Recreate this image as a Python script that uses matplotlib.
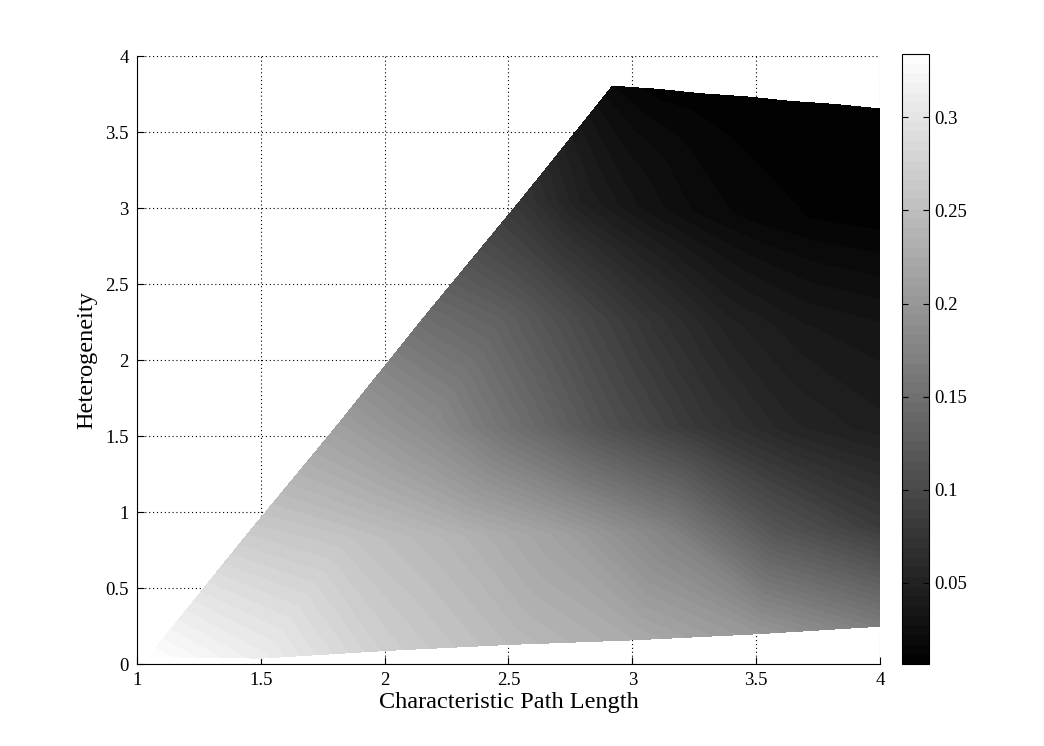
import numpy as np
import matplotlib
matplotlib.use('Agg')
import matplotlib.pyplot as plt

plt.rcParams['font.family'] = ['Liberation Serif', 'DejaVu Serif']

# mesh of measured points, rows go from low to high heterogeneity
path_length = [
    [1.05, 1.50, 2.00, 2.50, 3.00, 3.50, 4.00],
    [1.42, 1.85, 2.28, 2.71, 3.14, 3.57, 4.00],
    [1.80, 2.17, 2.53, 2.90, 3.27, 3.63, 4.00],
    [2.17, 2.48, 2.78, 3.09, 3.39, 3.70, 4.00],
    [2.55, 2.79, 3.03, 3.28, 3.52, 3.76, 4.00],
    [2.92, 3.10, 3.28, 3.46, 3.64, 3.82, 4.00],
]
heterogeneity = [
    [0.05, 0.04, 0.09, 0.13, 0.16, 0.20, 0.25],
    [0.80, 0.82, 0.83, 0.85, 0.87, 0.88, 0.90],
    [1.55, 1.55, 1.55, 1.55, 1.55, 1.55, 1.55],
    [2.30, 2.28, 2.27, 2.25, 2.23, 2.22, 2.20],
    [3.05, 3.03, 3.00, 2.98, 2.95, 2.93, 2.90],
    [3.80, 3.78, 3.75, 3.73, 3.70, 3.68, 3.65],
]
value = [
    [0.333, 0.310, 0.270, 0.245, 0.225, 0.200, 0.165],
    [0.270, 0.257, 0.238, 0.212, 0.174, 0.115, 0.083],
    [0.212, 0.187, 0.150, 0.110, 0.078, 0.055, 0.045],
    [0.145, 0.130, 0.100, 0.072, 0.050, 0.038, 0.034],
    [0.075, 0.048, 0.032, 0.020, 0.014, 0.011, 0.010],
    [0.017, 0.009, 0.008, 0.007, 0.007, 0.007, 0.007],
]

z_min = 0.0065
z_max = 0.334

X = np.array(path_length)
Y = np.array(heterogeneity)
Z = np.array(value)

fig = plt.figure(figsize=(10.44, 7.46), dpi=100)
ax = fig.add_axes([0.1312, 0.1099, 0.7117, 0.815])

levels = np.linspace(z_min, z_max, 64)
cs = ax.contourf(X, Y, Z, levels=levels, cmap='gray', vmin=z_min, vmax=z_max)
cs.set_edgecolor('face')
cs.set_linewidth(0.3)

ax.set_xlim(1, 4)
ax.set_ylim(0, 4)
ax.set_xticks([1, 1.5, 2, 2.5, 3, 3.5, 4])
ax.set_xticklabels(['1', '1.5', '2', '2.5', '3', '3.5', '4'])
ax.set_yticks([0, 0.5, 1, 1.5, 2, 2.5, 3, 3.5, 4])
ax.set_yticklabels(['0', '0.5', '1', '1.5', '2', '2.5', '3', '3.5', '4'])
ax.set_axisbelow(True)
ax.grid(True, linestyle=(0, (1, 2.5)), color='k', linewidth=0.8)
ax.spines['top'].set_visible(False)
ax.spines['right'].set_visible(False)
ax.tick_params(direction='in', length=5, labelsize=13.5, pad=6)
ax.set_xlabel('Characteristic Path Length', fontsize=17.5, labelpad=2)
ax.set_ylabel('Heterogeneity', fontsize=17.5, labelpad=6)

cax = fig.add_axes([0.864, 0.1099, 0.0259, 0.8177])
cbar = fig.colorbar(cs, cax=cax)
cbar.set_ticks([0.05, 0.1, 0.15, 0.2, 0.25, 0.3])
cbar.set_ticklabels(['0.05', '0.1', '0.15', '0.2', '0.25', '0.3'])
cax.tick_params(direction='in', left=True, right=True, length=4, labelsize=13.5)
cbar.outline.set_linewidth(0.8)

fig.savefig('out.png', dpi=100)
